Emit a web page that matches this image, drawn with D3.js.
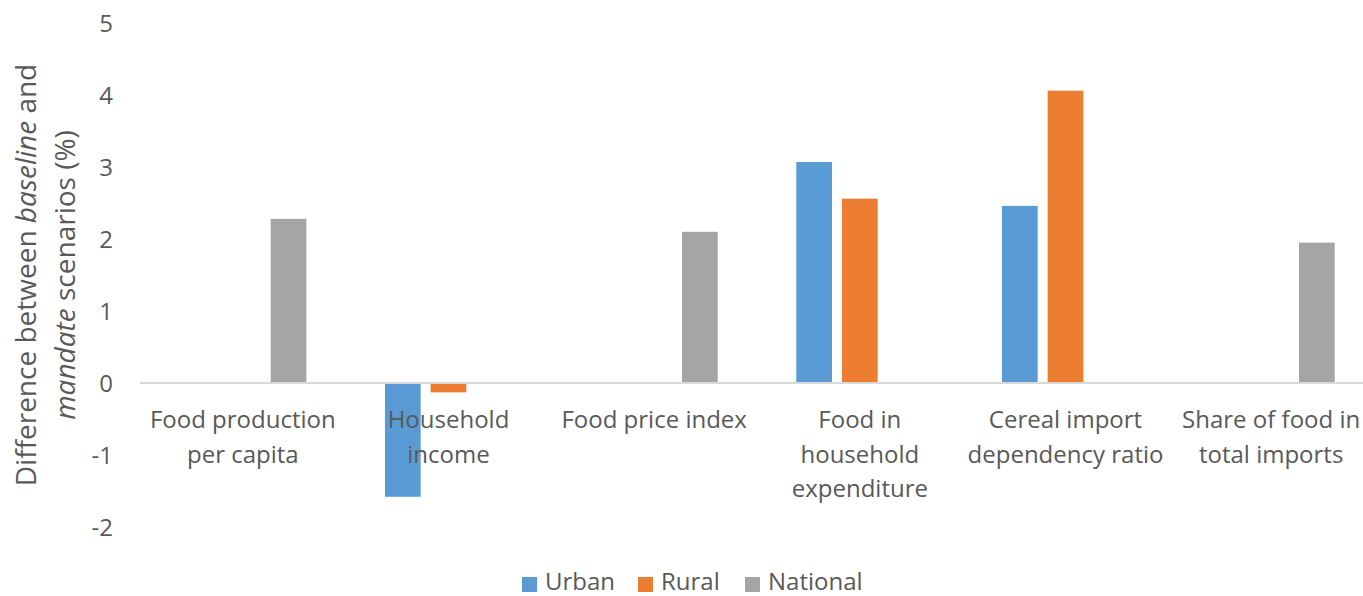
<!DOCTYPE html>
<html>
<head>
<meta charset="utf-8">
<script src="https://cdn.jsdelivr.net/npm/d3@7"></script>
<style>
  html, body { margin: 0; padding: 0; background: #fff; }
  svg { display: block; font-family: "Open Sans", "Noto Sans", sans-serif; }
</style>
</head>
<body>
<svg id="chart" width="1363" height="596"></svg>
<script>
const categories = [
  ["Food production", "per capita"],
  ["Household", "income"],
  ["Food price index"],
  ["Food in", "household", "expenditure"],
  ["Cereal import", "dependency ratio"],
  ["Share of food in", "total imports"]
];
const seriesNames = ["Urban", "Rural", "National"];
const seriesColors = ["#5B9BD5", "#ED7D31", "#A5A5A5"];
const urban    = [null, -1.58, null, 3.07, 2.46, null];
const rural    = [null, -0.13, null, 2.56, 4.06, null];
const national = [2.28, null, 2.10, null, null, 1.95];
const yTicks = [-2, -1, 0, 1, 2, 3, 4, 5];

const svg = d3.select("#chart");
const textColor = "#595959";
const fontSize = 24;
const titleSize = 28;

const x0 = d3.scaleBand().domain(d3.range(categories.length)).range([140, 1374]).padding(0);
const x1 = d3.scaleBand().domain(seriesNames).range([0, x0.bandwidth()])
  .paddingInner(10 / 45.7).paddingOuter(39.3 / 45.7);
const y = d3.scaleLinear().domain([-2, 5]).range([527, 23]);

const seriesData = [urban, rural, national];

// bars
seriesNames.forEach((name, si) => {
  svg.append("g").selectAll("rect")
    .data(seriesData[si].map((v, i) => ({ v, i })).filter(d => d.v !== null))
    .join("rect")
    .attr("x", d => x0(d.i) + x1(name))
    .attr("width", x1.bandwidth())
    .attr("y", d => y(Math.max(0, d.v)))
    .attr("height", d => Math.abs(y(d.v) - y(0)))
    .attr("fill", seriesColors[si]);
});

// zero axis line
svg.append("line")
  .attr("x1", x0.range()[0]).attr("x2", x0.range()[1])
  .attr("y1", y(0)).attr("y2", y(0))
  .attr("stroke", "#D9D9D9").attr("stroke-width", 2);

// y axis labels
const yAxis = d3.axisLeft(y).tickValues(yTicks).tickSize(0).tickPadding(0)
  .tickFormat(d => String(d));
const gy = svg.append("g").attr("transform", "translate(113,0)").call(yAxis);
gy.select(".domain").remove();
gy.selectAll("text").attr("fill", textColor).style("font-size", fontSize + "px")
  .style("font-family", "'Open Sans', sans-serif").attr("dy", "0.35em");

// category labels
const lineH = 34.5;
categories.forEach((lines, i) => {
  const t = svg.append("text")
    .attr("x", x0(i) + x0.bandwidth() / 2)
    .attr("y", 428)
    .attr("text-anchor", "middle")
    .attr("fill", textColor)
    .style("font-size", fontSize + "px");
  lines.forEach((l, k) => {
    t.append("tspan").attr("x", x0(i) + x0.bandwidth() / 2)
      .attr("y", 428 + k * lineH).text(l);
  });
});

// y title
const cy = (y(5) + y(-2)) / 2;
const title = svg.append("text")
  .attr("transform", `translate(0,${cy}) rotate(-90)`)
  .attr("text-anchor", "middle")
  .attr("fill", textColor)
  .style("font-size", titleSize + "px");
const l1 = title.append("tspan").attr("x", 0).attr("y", 36);
l1.append("tspan").text("Difference between ");
l1.append("tspan").style("font-style", "italic").text("baseline");
l1.append("tspan").text(" and");
const l2 = title.append("tspan").attr("x", 0).attr("y", 75);
l2.append("tspan").style("font-style", "italic").text("mandate");
l2.append("tspan").text(" scenarios (%)");

// legend
const legendItems = [
  { name: "Urban", color: seriesColors[0], x: 522 },
  { name: "Rural", color: seriesColors[1], x: 638 },
  { name: "National", color: seriesColors[2], x: 745 }
];
const lg = svg.append("g");
legendItems.forEach(it => {
  lg.append("rect").attr("x", it.x).attr("y", 577).attr("width", 15).attr("height", 15)
    .attr("fill", it.color);
  lg.append("text").attr("x", it.x + 23).attr("y", 590)
    .attr("fill", textColor).style("font-size", fontSize + "px").text(it.name);
});
</script>
</body>
</html>
